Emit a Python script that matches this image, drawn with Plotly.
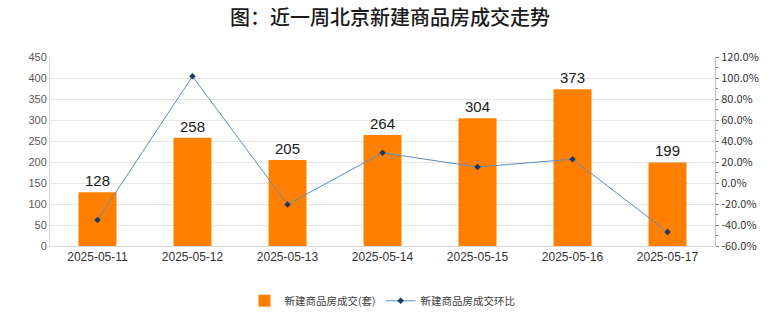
import plotly.graph_objects as go

dates = ["2025-05-11", "2025-05-12", "2025-05-13", "2025-05-14", "2025-05-15", "2025-05-16", "2025-05-17"]
volumes = [128, 258, 205, 264, 304, 373, 199]
ratios = [-35.2, 101.6, -20.5, 28.8, 15.2, 22.7, -46.6]

left_ticks = [0, 50, 100, 150, 200, 250, 300, 350, 400, 450]
right_ticks = [-60, -40, -20, 0, 20, 40, 60, 80, 100, 120]
right_ticktext = [f"{v:.1f}%" for v in right_ticks]

FONT = "Noto Sans CJK SC"

fig = go.Figure()
fig.add_trace(go.Bar(
    x=dates, y=volumes, name="新建商品房成交(套)",
    marker=dict(color="#FF8000", line=dict(width=0)),
    text=[str(v) for v in volumes], textposition="outside",
    textfont=dict(size=15, color="#1a1a1a", family="Liberation Sans"),
    cliponaxis=False,
))
fig.add_trace(go.Scatter(
    x=dates, y=ratios, name="新建商品房成交环比", yaxis="y2",
    mode="lines+markers",
    line=dict(color="#5B8DC0", width=1),
    marker=dict(symbol="diamond", size=5, color="#1F3864"),
))

fig.update_layout(
    width=780, height=328,
    margin=dict(l=50, r=65, t=57, b=82),
    paper_bgcolor="white", plot_bgcolor="white",
    font=dict(family=FONT, color="#595959", size=11),
    title=dict(text="图：近一周北京新建商品房成交走势", x=0.5, xanchor="center", y=0.945, yanchor="middle",
               font=dict(size=20, color="#1a1a1a", family=FONT, weight=500)),
    bargap=0.6,
    showlegend=True,
    legend=dict(orientation="h", x=0.5, xanchor="center", y=-0.29, yanchor="middle",
                font=dict(size=10.5, color="#404040", family=FONT)),
    xaxis=dict(type="category", showgrid=False, showline=True, linecolor="#D9D9D9",
               tickfont=dict(size=12, color="#333333", family="Liberation Sans"), ticks=""),
    yaxis=dict(range=[0, 450], tickvals=left_ticks, showgrid=True, gridcolor="#E6E6E6",
               showline=True, linecolor="#D9D9D9", zeroline=False,
               tickfont=dict(size=11, color="#595959", family="Liberation Sans")),
    yaxis2=dict(overlaying="y", side="right", range=[-60, 120], tickvals=right_ticks,
                ticktext=right_ticktext, showgrid=False, showline=True, linecolor="#BFBFBF",
                ticks="outside", ticklen=3, tickcolor="#808080", zeroline=False,
                minor=dict(dtick=10, ticks="outside", ticklen=2, tickcolor="#808080"),
                tickfont=dict(size=11, color="#333333", family=FONT)),
)

fig.write_html("out.html")
